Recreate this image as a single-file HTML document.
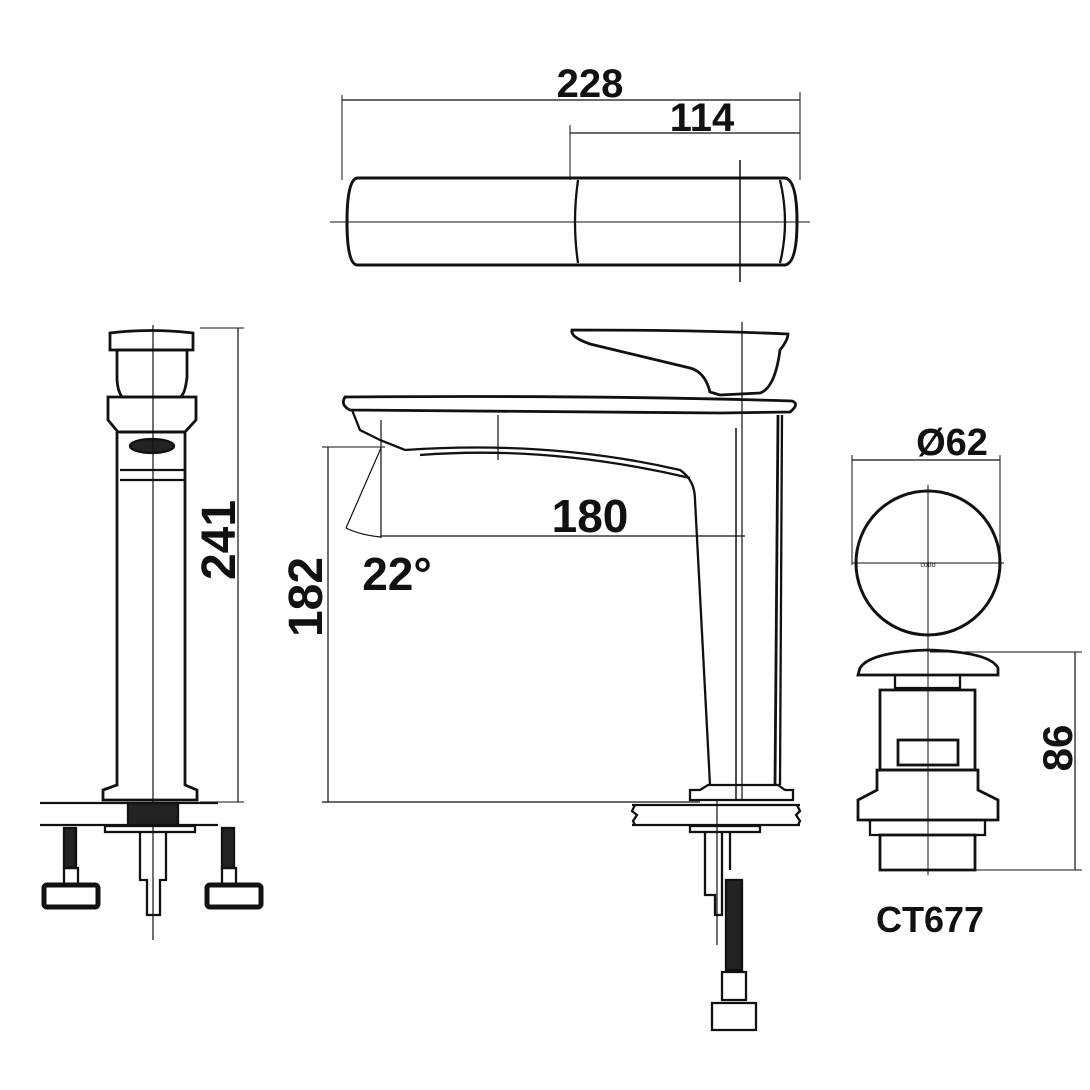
<!DOCTYPE html>
<html><head><style>html,body{margin:0;padding:0;background:#fff}svg{display:block}</style></head>
<body>
<svg width="1090" height="1090" viewBox="0 0 1090 1090" xmlns="http://www.w3.org/2000/svg" font-family="Liberation Sans, sans-serif">
<g fill="none" stroke="#111" stroke-width="2.3">
<!-- TOP VIEW -->
<path d="M357 178 H785 Q797 180 797 222 Q797 263 785 265 H357 Q347 264 347 222 Q347 180 357 178 Z" stroke-width="3"/>
<path d="M578 180 Q572 222 578 263"/>
<path d="M780 180 Q790 222 780 263"/>
<line x1="330" y1="222" x2="810" y2="222" stroke-width="1"/>
<line x1="740" y1="160" x2="740" y2="282" stroke-width="1.5"/>
<line x1="342" y1="95" x2="342" y2="180" stroke-width="1"/>
<line x1="800" y1="92" x2="800" y2="180" stroke-width="1"/>
<line x1="570" y1="125" x2="570" y2="180" stroke-width="1"/>
<line x1="342" y1="100" x2="800" y2="100" stroke-width="1.2"/>
<line x1="570" y1="133" x2="800" y2="133" stroke-width="1.2"/>

<!-- SIDE VIEW -->
<path d="M572 330 Q570 337 590 344 L690 368 Q705 372 710 392 L720 395 L760 393 Q775 388 780 350 Q788 340 788 334 Q700 330 572 330 Z" stroke-width="2.8"/>
<path d="M345 397 Q340 405 350 410 L720 413 L790 412 Q800 404 792 401 Q600 395 345 397 Z" stroke-width="2.8"/>
<path d="M352 410 L360 430 L380 440 L405 450 Q550 440 680 470 Q695 480 695 500 L710 785"/>
<path d="M420 455 Q550 445 690 478"/>
<path d="M778 415 L775 785" stroke-width="2.8"/>
<path d="M782 415 L780 785"/>
<path d="M708 785 H778 L785 790 H793 V800 H690 V790 H700 Z"/>
<line x1="742" y1="322" x2="742" y2="800" stroke-width="1.2"/>
<line x1="736" y1="428" x2="736" y2="800" stroke-width="1.5"/>
<line x1="498" y1="415" x2="498" y2="460" stroke-width="1.2"/>
<path d="M632 805 H800 M632 825 H800 M635 805 l-3 6 l5 4 l-4 6 l2 4 M797 805 l3 6 l-4 4 l4 6 l-2 4"/>
<rect x="690" y="826" width="70" height="6"/>
<path d="M705 832 V895 H715 V915 H722 V832 M722 832 V915 M730 832 V870"/>
<line x1="717" y1="800" x2="717" y2="945" stroke-width="1.2"/>
<rect x="726" y="880" width="16" height="90" fill="#222"/>
<path d="M722 972 H746 V1000 H722 Z M712 1003 H756 V1030 H712 Z"/>
<line x1="328" y1="447" x2="328" y2="802" stroke-width="1.2"/>
<line x1="322" y1="447" x2="385" y2="447" stroke-width="1"/>
<line x1="322" y1="802" x2="700" y2="802" stroke-width="1.2"/>
<line x1="381" y1="448" x2="346" y2="528" stroke-width="1.2"/>
<line x1="381" y1="420" x2="381" y2="538" stroke-width="1.2"/>
<path d="M346 528 Q360 535 381 537" stroke-width="1.2"/>
<line x1="381" y1="536" x2="745" y2="536" stroke-width="1.2"/>

<!-- LEFT VIEW -->
<path d="M110 333 Q150 328 193 333 V350 H110 Z" stroke-width="2.8"/>
<path d="M117 350 H187 V377 Q185 395 180 397 H122 Q117 390 117 377 Z" stroke-width="2.8"/>
<path d="M108 397 H196 V420 L185 432 H118 L108 420 Z" stroke-width="2.8"/>
<path d="M120 432 H185 V785 L197 790 V800 H103 V790 L117 785 V432" stroke-width="2.8"/>
<ellipse cx="152" cy="446" rx="22" ry="7" fill="#222"/>
<line x1="120" y1="470" x2="185" y2="470"/>
<line x1="120" y1="480" x2="185" y2="480"/>
<line x1="153" y1="325" x2="153" y2="940" stroke-width="1.2"/>
<line x1="200" y1="328" x2="244" y2="328" stroke-width="1"/>
<line x1="200" y1="802" x2="244" y2="802" stroke-width="1"/>
<line x1="238" y1="328" x2="238" y2="802" stroke-width="1.2"/>
<path d="M40 803 H218 M40 825 H218"/>
<rect x="128" y="803" width="50" height="22" fill="#222"/>
<rect x="105" y="826" width="90" height="6"/>
<path d="M140 832 V880 H147 V915 H160 V880 H166 V832"/>
<rect x="64" y="828" width="12" height="40" fill="#222"/>
<rect x="222" y="828" width="12" height="40" fill="#222"/>
<rect x="44" y="885" width="54" height="22" rx="3" stroke-width="5"/>
<rect x="207" y="885" width="54" height="22" rx="3" stroke-width="5"/>
<rect x="64" y="868" width="14" height="18"/>
<rect x="222" y="868" width="14" height="18"/>

<!-- RIGHT POPUP -->
<circle cx="928" cy="563" r="72" stroke-width="3"/>
<line x1="852" y1="563" x2="1004" y2="563" stroke-width="1"/>
<line x1="928" y1="485" x2="928" y2="640" stroke-width="1"/>
<line x1="852" y1="455" x2="852" y2="565" stroke-width="1"/>
<line x1="1000" y1="455" x2="1000" y2="565" stroke-width="1"/>
<line x1="852" y1="460" x2="1000" y2="460" stroke-width="1.2"/>
<path d="M860 668 Q870 652 928 650 Q990 652 998 668 V675 H858 Z" stroke-width="2.8"/>
<path d="M895 675 V688 H960 V675"/>
<path d="M880 690 H975 V770 H880 Z" stroke-width="2.8"/>
<rect x="898" y="740" width="60" height="25" stroke-width="2.8"/>
<path d="M877 770 H978 V790 L998 800 V820 H858 V800 L877 790 Z" stroke-width="2.8"/>
<path d="M870 820 H985 V835 H870 Z"/>
<path d="M880 835 H975 V870 H880 Z" stroke-width="2.8"/>
<line x1="928" y1="640" x2="928" y2="875" stroke-width="1"/>
<line x1="930" y1="652" x2="1082" y2="652" stroke-width="1"/>
<line x1="975" y1="870" x2="1082" y2="870" stroke-width="1"/>
<line x1="1075" y1="652" x2="1075" y2="870" stroke-width="1.2"/>
</g>
<g fill="#111" font-weight="bold">
<text x="590" y="97" font-size="40" text-anchor="middle">228</text>
<text x="702" y="131" font-size="40" text-anchor="middle">114</text>
<text x="590" y="532" font-size="46" text-anchor="middle">180</text>
<text x="397" y="590" font-size="46" text-anchor="middle">22°</text>
<text transform="translate(322,597) rotate(-90)" font-size="48" text-anchor="middle">182</text>
<text transform="translate(235,540) rotate(-90)" font-size="48" text-anchor="middle">241</text>
<text x="952" y="455" font-size="38" text-anchor="middle">Ø62</text>
<text transform="translate(1072,748) rotate(-90)" font-size="42" text-anchor="middle">86</text>
<text x="930" y="932" font-size="36" text-anchor="middle">CT677</text>
<text x="928" y="567" font-size="7" text-anchor="middle" font-weight="normal">cotto</text>
</g>
</svg>
</body></html>
